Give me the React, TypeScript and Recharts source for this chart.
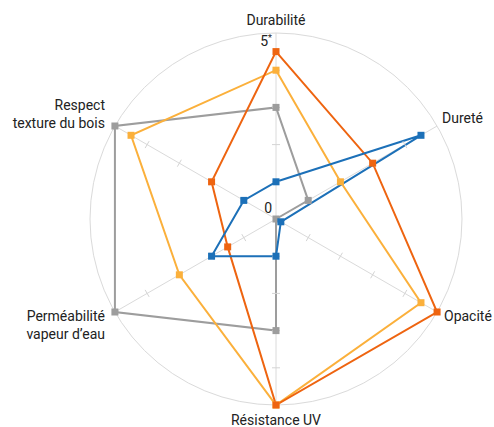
import { RadarChart, Radar, PolarGrid, PolarAngleAxis, PolarRadiusAxis } from 'recharts'

const criteria = [
  'Durabilité',
  'Dureté',
  'Opacité',
  'Résistance UV',
  'Perméabilité\nvapeur d’eau',
  'Respect\ntexture du bois',
]
const orangeValues = [4.5, 3, 5, 5, 1.5, 2]
const yellowValues = [4, 2, 4.5, 5, 3, 4.5]
const grayValues = [3, 1, 0, 3, 5, 5]
const blueValues = [1, 4.5, 0.15, 1, 2, 1]
const radiusTicks = [0, 1, 2, 3, 4, 5]

const data = criteria.map((c, i) => ({
  critere: c,
  orange: orangeValues[i],
  jaune: yellowValues[i],
  gris: grayValues[i],
  bleu: blueValues[i],
}))

const CX = 276
const CY = 219
const R = 186
const FONT = 'Roboto, "Open Sans", sans-serif'
const SPOKES = [90, 30, -30, -90, -150, 150]

// label placement per axis: anchor, dx, dy (baseline of first line)
const labelPos = [
  { anchor: 'middle', dx: 0, dy: 0 },
  { anchor: 'start', dx: -2, dy: 1 },
  { anchor: 'start', dx: 0, dy: 5 },
  { anchor: 'middle', dx: 0, dy: 12 },
  { anchor: 'end', dx: -3, dy: 5 },
  { anchor: 'end', dx: -3, dy: -12 },
]

const AngleTick = (props: any) => {
  const { x, y, payload, index } = props
  const p = labelPos[index] || { anchor: 'middle', dx: 0, dy: 0 }
  const lines = String(payload.value).split('\n')
  return (
    <text x={x + p.dx} y={y + p.dy} textAnchor={p.anchor} fontSize={14} fontFamily={FONT} fill="#222">
      {lines.map((l, i) => (
        <tspan key={i} x={x + p.dx} dy={i === 0 ? 0 : 18}>{l}</tspan>
      ))}
    </text>
  )
}

const RadiusTick = (props: any) => {
  const { y, payload } = props
  const v = payload.value
  const r = CY - y
  if (v === 0) {
    return (
      <text x={CX - 4} y={CY - 6} textAnchor="end" fontSize={14} fontFamily={FONT} fill="#222">0</text>
    )
  }
  if (v === 5) {
    return (
      <text x={CX - 4} y={y + 13} textAnchor="end" fontSize={14} fontFamily={FONT} fill="#222">
        5<tspan fontSize={9} dy={-5}>*</tspan>
      </text>
    )
  }
  return (
    <g>
      {SPOKES.map((a) => {
        const rad = (a * Math.PI) / 180
        const px = CX + r * Math.cos(rad)
        const py = CY - r * Math.sin(rad)
        const ox = Math.sin(rad) * 4
        const oy = Math.cos(rad) * 4
        return <line key={a} x1={px - ox} y1={py - oy} x2={px + ox} y2={py + oy} stroke="#d4d4d4" strokeWidth={1} />
      })}
    </g>
  )
}

const squareDot = (color: string) => (props: any) => {
  const { cx, cy, index } = props
  return <rect key={index} x={cx - 3.5} y={cy - 3.5} width={7} height={7} fill={color} />
}

export default function App() {
  return (
    <div style={{ position: 'absolute', left: 0, top: 0, background: '#fff' }}>
      <RadarChart width={494} height={427} data={data} cx={CX} cy={CY} outerRadius={R} margin={{ top: 0, right: 0, bottom: 0, left: 0 }}>
        <PolarGrid gridType="circle" polarRadius={[R]} stroke="#dadada" />
        <PolarAngleAxis dataKey="critere" tick={AngleTick} tickLine={false} axisLine={false} />
        <PolarRadiusAxis angle={90} domain={[0, 5]} ticks={radiusTicks} tickCount={6} axisLine={false} tick={RadiusTick} />
        <Radar dataKey="gris" stroke="#9d9d9d" strokeWidth={2} fill="none" fillOpacity={0} dot={squareDot('#9d9d9d')} isAnimationActive={false} />
        <Radar dataKey="jaune" stroke="#fbb03b" strokeWidth={2} fill="none" fillOpacity={0} dot={squareDot('#fbb03b')} isAnimationActive={false} />
        <Radar dataKey="orange" stroke="#ee6410" strokeWidth={2} fill="none" fillOpacity={0} dot={squareDot('#ee6410')} isAnimationActive={false} />
        <Radar dataKey="bleu" stroke="#1c70b8" strokeWidth={2} fill="none" fillOpacity={0} dot={squareDot('#1c70b8')} isAnimationActive={false} />
      </RadarChart>
    </div>
  )
}
